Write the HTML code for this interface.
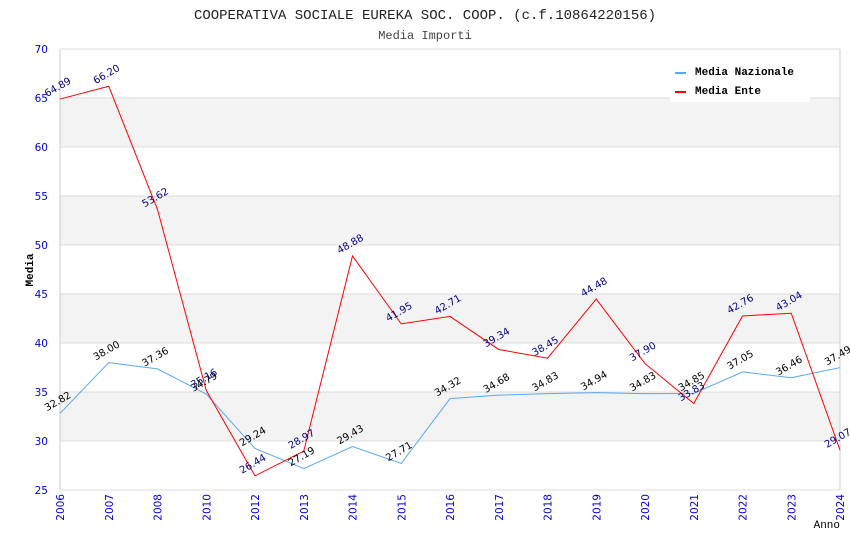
<!DOCTYPE html>
<html><head><meta charset="utf-8"><style>
body{margin:0;background:#fff}
svg{font-family:"DejaVu Sans","Liberation Sans",sans-serif}
</style></head><body>
<svg id="chart" width="850" height="550">
<text x="425" y="19" text-anchor="middle" font-family="Liberation Mono, monospace" font-size="14" fill="#222">COOPERATIVA SOCIALE EUREKA SOC. COOP. (c.f.10864220156)</text>
<text x="425" y="39" text-anchor="middle" font-family="Liberation Mono, monospace" font-size="12" fill="#444">Media Importi</text>
<g id="bands"></g><g id="grid"></g><g id="ticks"></g><g id="series"></g><g id="labels"></g>
<text transform="translate(33,270) rotate(-90)" text-anchor="middle" font-family="Liberation Mono, monospace" font-weight="bold" font-size="11">Media</text>
<text x="840" y="528" text-anchor="end" font-family="Liberation Mono, monospace" font-size="11">Anno</text>
<g>
<rect x="670" y="58" width="140" height="44" fill="#fff"/>
<line x1="675" y1="73" x2="686" y2="73" stroke="#5aa8f0" stroke-width="2"/>
<text x="695" y="75" font-family="Liberation Mono, monospace" font-weight="bold" font-size="11">Media Nazionale</text>
<line x1="675" y1="92" x2="686" y2="92" stroke="#f00" stroke-width="2"/>
<text x="695" y="94" font-family="Liberation Mono, monospace" font-weight="bold" font-size="11">Media Ente</text>
</g>
</svg>
<script>
const categories=["2006","2007","2008","2010","2012","2013","2014","2015","2016","2017","2018","2019","2020","2021","2022","2023","2024"];
const nazionale=[32.82,38.00,37.36,34.79,29.24,27.19,29.43,27.71,34.32,34.68,34.83,34.94,34.83,34.85,37.05,36.46,37.49];
const ente=[64.89,66.20,53.62,35.16,26.44,28.97,48.88,41.95,42.71,39.34,38.45,44.48,37.90,33.83,42.76,43.04,29.07];
const yTicks=[25,30,35,40,45,50,55,60,65,70];
const NS="http://www.w3.org/2000/svg";
const L=60,R=840,T=49,B=490,yMin=25,yMax=70;
const x=i=>L+i*(R-L)/(categories.length-1);
const y=v=>B-(v-yMin)*(B-T)/(yMax-yMin);
function mk(tag,attrs,parent){const e=document.createElementNS(NS,tag);for(const k in attrs)e.setAttribute(k,attrs[k]);document.getElementById(parent).appendChild(e);return e;}
for(let i=0;i<yTicks.length-1;i++){
  if(i%2===1){const b=mk('rect',{x:L,y:y(yTicks[i+1]),width:R-L,height:y(yTicks[i])-y(yTicks[i+1]),fill:'#f3f3f3'},'bands');
  
  }
}
yTicks.forEach(v=>{
  const g=mk('line',{x1:L,x2:R,y1:y(v),y2:y(v),stroke:'#ddd'},'grid');
  
  
  const t=mk('text',{x:48,y:y(v)+4,'text-anchor':'end','font-size':10.5,fill:'#0000dd'},'ticks');
  t.textContent=v;
  
  
});
mk('line',{x1:L,x2:L,y1:T,y2:B,stroke:'#ccc'},'grid');
mk('line',{x1:R,x2:R,y1:T,y2:B,stroke:'#ccc'},'grid');
categories.forEach((c,i)=>{
  const t=mk('text',{transform:`translate(${x(i)+4},${B+4}) rotate(-90)`,'text-anchor':'end','font-size':10.5,fill:'#0000dd'},'ticks');
  t.textContent=c;
  
  
});
function series(data,color,lblColor,name){
  const p=mk('polyline',{points:data.map((v,i)=>x(i)+','+y(v)).join(' '),fill:'none',stroke:color,'stroke-width':1},'series');
  
  
  data.forEach((v,i)=>{
    const t=mk('text',{transform:`translate(${x(i)-13},${y(v)-2}) rotate(-30)`,'font-size':10,fill:lblColor},'labels');
    t.textContent=v.toFixed(2);
    
    
  });
}
series(nazionale,'#5aa8f0','#000','nazionale');
series(ente,'#f00','#00008b','ente');
</script>
</body></html>
